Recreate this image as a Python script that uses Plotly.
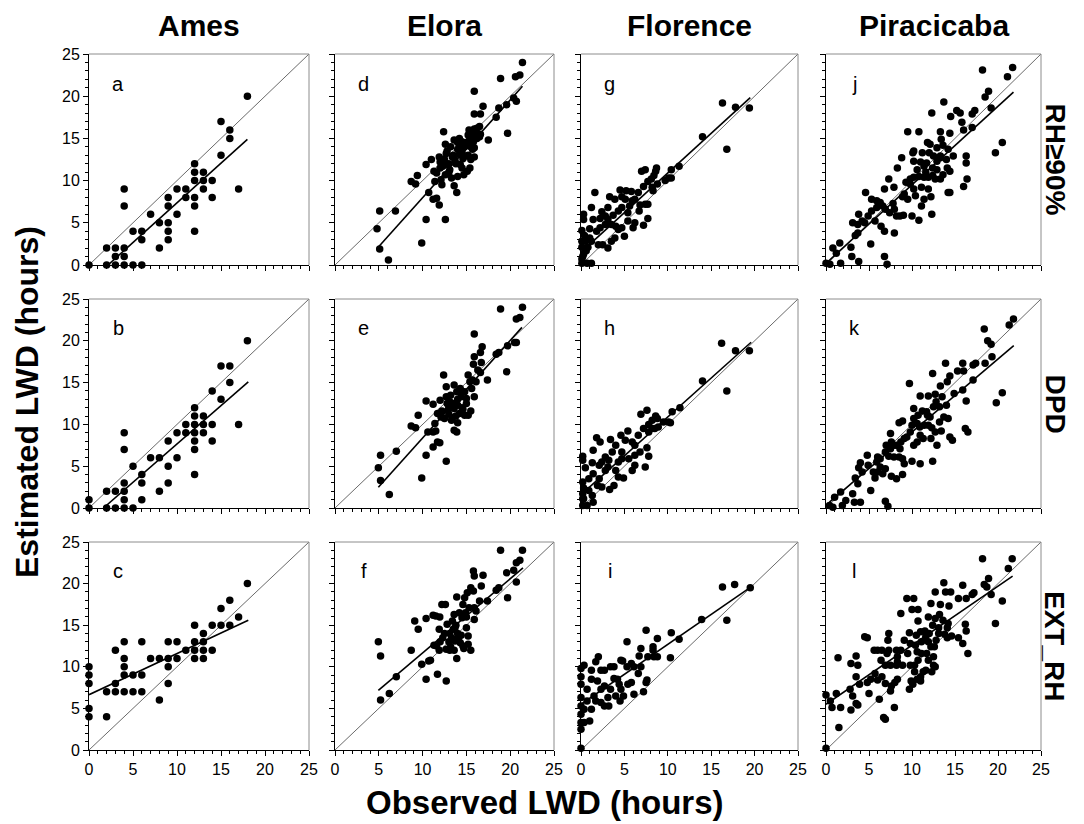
import plotly.graph_objects as go

# ---------------- data (observed, estimated) ----------------
sites = ["Ames", "Elora", "Florence", "Piracicaba"]
models = ["RH\u226590%", "DPD", "EXT_RH"]
letters = [["a", "d", "g", "j"], ["b", "e", "h", "k"], ["c", "f", "i", "l"]]
tick_vals = [0, 5, 10, 15, 20, 25]

pts_a = [(0,0),(2,2),(2,0),(3,2),(3,1),(3,0),(4,2),(4,1),(4,0),(4,9),(4,7),(5,4),(5,0),(6,4),(6,3),(6,0),
         (7,6),(8,5),(8,2),(9,8),(9,7),(9,5),(9,4),(9,3),(10,9),(10,6),(11,9),(11,8),(12,12),(12,11),(12,10),
         (12,8),(12,7),(12,4),(13,11),(13,10),(13,9),(14,10),(14,8),(15,17),(15,13),(16,16),(16,15),(17,9),(18,20)]
pts_b = [(0,1),(0,0),(2,2),(2,0),(3,2),(3,0),(4,9),(4,7),(4,3),(4,2),(4,1),(4,0),(5,5),(5,0),(6,4),(6,3),(6,1),
         (7,6),(8,6),(8,2),(9,8),(9,5),(9,3),(10,9),(10,6),(11,10),(11,9),(12,12),(12,11),(12,10),(12,9),(12,8),
         (12,7),(12,4),(13,11),(13,10),(13,9),(14,14),(14,10),(14,8),(15,17),(15,13),(16,17),(16,15),(17,10),(18,20)]
pts_c = [(0,10),(0,9),(0,8),(0,5),(0,4),(2,7),(2,4),(3,12),(3,8),(3,7),(4,13),(4,11),(4,10),(4,9),(4,7),(5,9),
         (5,7),(6,13),(6,9),(6,7),(7,11),(8,11),(8,6),(9,13),(9,11),(9,10),(9,8),(10,13),(10,11),(11,12),(12,15),
         (12,13),(12,12),(12,11),(13,14),(13,13),(13,12),(13,11),(14,15),(14,12),(15,17),(15,15),(16,18),(16,15),
         (17,16),(18,20)]
pts_d = [(6.1,0.6),(5.1,1.9),(4.8,4.3),(5.1,6.4),(6.9,6.4),(9.9,2.6),(10.4,5.4),(12.6,5.4),(8.7,9.9),(9.2,9.6),
         (9.4,10.6),(10.4,11.9),(10.7,8.6),(11.2,7.8),(11.6,7.9),(11.9,7.1),(11.3,11.1),(11.6,10.9),(11.4,9.9),
         (11.9,12.8),(12.0,12.2),(12.4,15.8),(12.6,14.3),(12.7,13.2),(12.3,11.7),(12.1,10.1),(12.6,10.7),(12.9,11.9),
         (13.1,11.3),(13.3,10.3),(13.6,9.4),(13.9,8.6),(13.7,12.4),(13.6,14.8),(14.0,13.7),(14.2,13.1),(14.4,14.3),
         (14.5,14.6),(14.3,11.9),(14.5,11.5),(14.7,10.7),(15.1,11.1),(15.4,11.5),(15.0,12.9),(15.5,12.5),(15.7,13.7),
         (15.2,15.4),(15.4,15.0),(15.6,15.7),(15.9,16.1),(16.0,15.8),(16.2,16.2),(16.5,16.4),(16.6,15.5),(16.0,15.1),
         (15.9,13.9),(15.9,12.8),(17.5,14.8),(15.9,20.6),(15.9,17.9),(16.6,17.9),(16.9,18.8),(18.4,17.5),(18.7,18.6),
         (18.9,22.1),(19.6,19.0),(19.7,15.6),(20.4,19.8),(20.7,19.4),(20.6,22.3),(21.1,22.5),(21.4,24.0),
         (12.0,11.5),(12.5,12.5),(13.0,12.0),(13.5,13.0),(13.8,12.0),(14.0,14.5),(14.5,13.5),(14.8,14.0),(15.0,14.5),
         (15.2,13.0),(13.2,14.0),(12.8,13.5),(14.2,15.0),(15.5,14.0),(16.2,15.0),(11.0,12.5),(12.2,9.5),(13.0,11.0),
         (14.0,10.5),(15.8,14.6),(16.5,15.2),(14.6,12.6),(13.4,12.8),(15.3,16.0)]
pts_e = [(6.2,1.6),(5.2,3.3),(4.95,4.8),(5.2,6.3),(7.0,6.8),(9.9,3.6),(10.4,6.3),(12.7,5.6),(8.7,9.8),(9.2,9.6),
         (9.5,11.1),(10.4,12.8),(11.2,7.3),(11.7,7.9),(11.96,7.8),(11.2,9.1),(11.5,9.2),(10.6,9.1),(11.4,10.1),
         (11.2,12.4),(12.4,15.9),(12.7,14.5),(12.7,13.3),(12.0,12.9),(11.7,11.3),(12.1,10.9),(12.5,10.7),(12.9,11.7),
         (13.1,12.7),(13.3,10.5),(13.6,14.7),(13.6,9.3),(13.9,9.1),(13.9,13.9),(14.3,14.3),(14.4,13.3),(14.0,12.3),
         (13.6,11.9),(14.2,11.3),(14.8,11.1),(15.2,11.1),(15.5,11.6),(14.8,13.9),(15.0,13.1),(15.2,15.9),(15.4,15.1),
         (15.7,15.3),(15.9,13.3),(15.6,14.3),(16.1,15.1),(15.8,17.2),(16.3,16.5),(16.6,16.2),(16.7,17.4),(15.9,20.8),
         (15.9,18.1),(16.6,18.6),(16.8,19.3),(17.4,15.3),(18.4,18.4),(18.7,18.6),(18.9,23.8),(19.6,16.3),(19.7,19.4),
         (20.5,19.8),(20.7,19.8),(20.7,22.6),(21.1,22.8),(21.4,24.0),
         (13.0,12.0),(13.5,12.5),(14.0,13.0),(14.5,12.0),(13.8,11.0),(12.8,12.5),(14.2,14.0),(13.2,13.5),(14.6,11.8),
         (13.4,10.8),(12.2,11.6),(15.0,12.5),(14.0,10.2),(13.0,11.2)]
pts_f = [(4.95,13.0),(5.2,11.3),(5.2,6.0),(6.2,6.8),(7.0,8.8),(8.7,12.0),(9.1,15.5),(9.5,14.5),(9.9,10.3),
         (10.4,15.8),(10.4,8.5),(10.7,10.7),(10.9,10.8),(11.7,9.1),(11.2,16.2),(11.5,16.1),(11.96,16.0),(12.2,17.5),
         (12.6,17.5),(12.7,8.3),(11.3,12.6),(11.6,12.5),(11.9,12.0),(11.9,14.5),(12.3,13.5),(12.8,15.1),(12.7,12.1),
         (13.1,12.0),(13.4,15.5),(13.6,16.3),(13.7,14.7),(13.9,18.4),(13.9,11.0),(13.6,12.0),(13.7,13.1),(13.3,13.5),
         (13.1,14.0),(14.1,13.5),(14.3,12.9),(14.6,12.5),(14.7,12.2),(14.5,15.9),(14.6,17.5),(14.8,18.3),(15.1,18.9),
         (15.0,14.7),(15.2,13.7),(15.2,12.7),(15.5,12.0),(14.9,16.5),(15.3,17.1),(15.5,19.5),(15.9,17.1),(15.9,15.7),
         (15.8,21.5),(15.9,20.9),(15.8,19.1),(16.1,16.7),(16.5,17.9),(16.7,19.7),(16.9,21.0),(17.4,17.9),(18.4,19.2),
         (18.7,19.5),(18.9,24.0),(19.6,21.3),(19.7,18.3),(20.4,21.6),(20.7,20.2),(20.7,22.5),(21.1,22.8),(21.4,24.0),
         (13.0,13.0),(13.5,14.5),(14.0,14.0),(12.5,14.0),(14.2,16.5),(13.8,15.0),(12.0,13.0),(14.4,13.8),(13.2,12.4),
         (15.0,16.0)]
pts_g = [(16.3,19.2),(17.8,18.7),(19.4,18.6),(16.8,13.7),(14.0,15.2),(11.3,11.7),(10.4,11.3),(10.1,10.3),(10.4,10.3),
         (8.7,11.5),(8.6,11.1),(7.4,11.3),(6.98,11.1),(8.4,10.6),(8.1,10.2),(8.8,9.6),(7.7,9.9),(7.2,9.3),(8.2,9.2),
         (6.6,8.6),(6.8,7.1),(7.4,7.2),(7.7,5.5),(7.2,4.7),(5.8,8.7),(5.2,8.8),(4.5,8.9),(4.7,8.1),(3.9,7.8),(3.3,8.1),
         (1.6,8.6),(1.2,6.8),(5.9,7.6),(5.6,7.0),(5.4,6.2),(4.7,6.8),(4.3,6.4),(3.7,5.9),(3.1,5.4),(2.8,4.8),(2.4,6.3),
         (2.2,5.5),(1.4,5.4),(1.0,4.3),(0.3,5.4),(0.1,4.1),(0.5,2.8),(0.1,2.8),(0.1,2.1),(0.3,1.3),(0.1,0.7),(0.1,0.2),
         (0.7,0.2),(1.2,0.2),(0.8,2.1),(1.2,2.8),(2.0,2.4),(2.5,2.4),(3.1,2.0),(3.5,2.8),(3.9,3.2),(4.7,4.4),(5.0,3.4),
         (6.0,4.4),(6.2,5.0),(5.4,5.2),(4.3,4.2),(2.8,5.8),(3.5,4.8),(4.0,4.6),(1.8,4.0),(2.2,4.4),(7.7,7.2),(8.3,8.8),
         (9.7,10.0),(6.7,6.4),(3.1,6.8),(6.2,7.8),(5.1,7.8),(0.4,3.5),(0.2,1.0),(0.6,1.7),(1.0,3.2),(0.3,6.0)]
pts_h = [(16.2,19.7),(17.8,18.8),(19.4,18.8),(16.8,14.0),(14.0,15.2),(11.4,12.0),(10.5,11.5),(10.1,10.3),(10.3,10.2),
         (7.6,11.7),(6.9,11.2),(8.6,11.0),(8.8,10.7),(8.2,10.5),(7.8,10.0),(8.9,9.7),(7.2,9.5),(8.2,9.5),(6.6,8.7),
         (7.6,7.2),(7.8,6.2),(7.4,4.9),(5.4,9.2),(4.6,8.7),(3.4,8.2),(1.8,8.4),(1.4,6.9),(0.2,6.2),(0.2,5.7),(0.5,4.8),
         (1.3,5.4),(1.4,4.1),(0.2,3.1),(0.3,2.4),(0.2,1.7),(0.2,1.1),(0.2,0.3),(0.7,0.3),(1.4,0.7),(1.3,1.5),(1.9,2.7),
         (2.4,2.5),(3.3,2.2),(3.8,2.7),(4.3,3.7),(4.9,3.6),(5.9,4.5),(6.2,5.1),(6.2,6.3),(5.5,5.9),(4.3,5.5),(4.7,6.7),
         (3.6,6.7),(2.8,6.1),(2.4,5.5),(2.1,5.1),(3.1,4.9),(4.0,4.5),(5.1,8.1),(5.9,7.9),(6.2,7.5),(6.8,6.7),(4.0,7.5),
         (3.2,5.7),(7.8,9.1),(8.5,9.5),(9.5,10.3),(2.1,3.5),(0.9,3.5),(0.3,1.1),(0.9,2.1),(2.8,4.5),(4.7,5.9),(2.2,7.9)]
pts_i = [(16.3,19.6),(17.7,19.9),(19.5,19.5),(16.8,15.6),(13.9,15.7),(11.3,13.3),(10.4,14.1),(10.3,11.1),(8.8,13.4),
         (7.5,14.4),(8.3,12.4),(7.7,11.2),(8.4,11.2),(8.8,11.2),(6.9,12.2),(6.7,11.3),(5.3,13.0),(4.6,10.8),(4.8,10.7),
         (5.8,10.4),(6.6,9.2),(7.6,8.4),(7.2,7.0),(7.5,8.1),(6.1,6.7),(5.8,8.1),(5.4,7.9),(4.9,6.5),(4.5,5.9),(4.4,7.9),
         (4.2,8.5),(3.8,8.6),(3.4,10.0),(2.7,9.6),(2.3,9.6),(2.0,11.2),(1.7,10.6),(1.2,8.5),(1.2,9.6),(0.35,10.2),
         (0,9.8),(0,8.8),(0,7.9),(0,6.3),(0,5.3),(0,4.3),(0,3.3),(0,2.5),(0.35,3.3),(1.0,3.5),(0.35,4.9),(0.7,5.9),
         (1.2,4.9),(1.7,5.9),(2.3,5.7),(2.7,5.3),(3.1,6.3),(3.4,7.3),(2.7,7.7),(1.9,8.3),(2.3,7.3),(0.7,7.3),(3.2,5.3),
         (4.0,6.5),(5.3,10.0),(6.1,10.0),(6.9,10.0),(8.3,12.0),(0,0.2),(3.8,10.0),(4.6,7.3),(1.5,6.5)]
pts_j = [(18.2,23.1),(21.7,23.4),(21.1,22.3),(18.5,19.9),(18.9,20.6),(19.2,18.6),(20.5,14.5),(19.7,13.3),(13.7,19.3),
         (12.3,18.0),(15.2,18.3),(15.6,18.0),(14.5,17.6),(15.8,16.9),(17.0,17.9),(17.3,18.3),(17.0,16.3),(16.0,16.0),
         (13.3,15.8),(14.4,15.6),(9.5,15.8),(10.8,15.8),(11.8,14.5),(12.1,14.3),(13.4,14.9),(13.6,14.2),(14.2,13.7),
         (10.1,13.3),(10.2,13.5),(8.8,12.7),(8.3,11.5),(10.2,12.3),(11.0,12.2),(11.4,11.7),(11.7,12.1),(12.5,12.9),
         (12.9,12.3),(12.9,11.3),(13.3,12.7),(14.1,11.5),(14.4,11.1),(16.3,12.9),(16.3,12.1),(16.4,10.2),(16.0,9.3),
         (14.2,8.6),(14.4,8.6),(10.2,10.4),(10.8,10.5),(9.8,10.2),(11.4,10.4),(11.9,10.4),(12.4,10.6),(12.7,10.2),
         (13.3,10.2),(11.1,9.2),(11.9,9.0),(12.2,8.1),(11.4,7.8),(11.1,7.0),(12.3,6.0),(9.8,9.6),(10.2,9.0),(10.4,8.2),
         (9.3,9.8),(9.1,8.4),(8.9,8.1),(9.5,7.8),(10.0,5.8),(10.8,5.3),(9.0,5.9),(8.6,5.8),(8.2,5.8),(7.95,6.6),
         (7.8,7.3),(7.3,10.2),(7.9,9.2),(6.8,9.0),(4.6,8.6),(5.9,7.6),(6.3,7.4),(6.6,7.0),(5.9,6.8),(6.9,6.6),(7.4,6.2),
         (5.3,6.4),(4.9,5.8),(5.7,5.2),(6.4,4.6),(6.8,4.0),(7.95,3.8),(3.8,6.0),(3.1,5.0),(3.7,4.8),(3.4,3.5),(3.7,3.8),
         (5.2,2.5),(2.9,2.1),(1.6,2.6),(0.8,2.0),(1.2,1.4),(3.0,1.0),(3.8,0.4),(6.8,1.0),(7.1,0.1),(0,0.2),(0.45,0.1),
         (1.7,0.2),(4.2,5.2),(4.5,5.0),(5.3,7.8),(13.3,12.9),(12.9,13.9),(12.0,13.3),(11.2,13.3),(10.6,11.3),(11.6,11.0),
         (12.4,11.5),(13.6,10.7),(14.0,12.5),(14.8,12.9)]
pts_k = [(18.4,21.4),(21.8,22.6),(21.3,21.9),(18.8,20.0),(19.2,19.6),(19.3,18.1),(18.5,17.3),(20.5,13.8),(19.8,12.6),
         (17.1,15.3),(17.4,17.3),(17.1,17.1),(16.0,16.4),(15.9,17.3),(15.3,16.4),(15.9,14.1),(16.3,12.8),(13.9,17.3),
         (14.4,15.8),(12.4,16.1),(9.7,14.9),(13.3,14.6),(14.1,15.1),(14.9,13.7),(12.7,13.6),(11.9,13.4),(10.95,13.4),
         (13.5,13.3),(14.0,12.3),(14.2,10.7),(13.7,10.9),(12.5,12.1),(11.2,11.6),(10.2,11.9),(10.7,11.1),(11.8,11.1),
         (12.1,10.9),(8.9,10.4),(8.5,10.2),(7.5,8.9),(16.2,9.5),(16.5,9.1),(14.4,8.5),(14.7,8.1),(13.4,9.2),(13.2,10.3),
         (10.0,9.9),(10.6,10.1),(10.9,9.7),(11.4,9.9),(11.9,9.9),(12.3,9.6),(12.7,9.1),(12.9,7.5),(12.2,8.3),(11.3,8.3),
         (10.6,7.9),(10.2,7.5),(9.8,9.1),(9.4,8.5),(9.1,8.3),(8.7,7.9),(8.6,7.1),(7.9,7.5),(7.5,7.1),(7.0,7.5),(6.9,6.7),
         (7.3,6.2),(7.9,6.1),(8.5,6.1),(8.9,5.9),(9.1,5.3),(10.0,5.6),(10.95,5.3),(12.4,5.6),(8.9,4.0),(8.2,3.5),(7.6,3.8),
         (6.9,4.7),(6.3,5.9),(6.0,6.1),(5.9,5.5),(6.3,4.9),(6.0,4.3),(6.6,4.1),(5.7,3.6),(4.8,6.3),(4.9,5.1),(4.0,5.4),
         (3.8,4.8),(4.2,4.3),(3.4,3.6),(3.7,2.9),(3.1,1.7),(4.0,0.7),(3.3,0.7),(5.2,2.1),(6.9,0.8),(7.2,0.2),(1.7,1.9),
         (1.0,1.3),(1.9,0.3),(0.4,0.3),(0.8,0.1),(2.3,0.9),(5.5,4.3),(8.2,7.5),(10.95,8.7),(11.7,11.5),(12.8,12.7),
         (13.2,12.1),(10.2,10.7),(7.6,7.9)]
pts_l = [(18.2,23.0),(21.65,23.0),(21.2,21.8),(18.4,19.9),(18.9,20.6),(19.2,18.7),(20.5,17.9),(19.7,15.2),(18.7,19.6),
         (17.0,18.7),(17.2,18.9),(15.9,19.8),(16.3,18.2),(15.4,18.2),(16.2,15.1),(16.3,14.3),(15.9,12.8),(16.5,11.6),
         (13.7,20.1),(12.7,19.0),(13.9,19.0),(14.5,19.0),(12.2,17.6),(13.3,17.5),(14.3,17.3),(9.4,18.2),(10.2,18.2),
         (10.0,16.9),(10.7,16.9),(8.7,16.4),(10.7,15.5),(11.9,16.0),(12.7,15.8),(13.2,16.3),(13.6,15.6),(14.2,15.2),
         (12.4,15.0),(11.5,14.3),(11.0,14.2),(9.7,14.1),(13.1,14.0),(13.8,13.9),(14.1,14.7),(12.8,13.2),(11.9,13.0),
         (11.1,13.0),(10.4,12.6),(9.1,13.2),(9.8,12.8),(8.7,12.0),(10.6,11.8),(11.1,11.6),(11.7,11.6),(12.2,12.4),
         (12.5,11.2),(11.9,10.8),(12.5,10.2),(12.7,10.0),(10.7,10.8),(10.3,10.2),(9.8,10.2),(8.9,10.2),(8.2,10.2),
         (7.5,10.2),(6.9,10.2),(6.4,10.8),(7.1,11.6),(6.5,12.0),(6.0,12.0),(5.6,12.0),(7.3,12.0),(8.2,12.0),(7.2,13.2),
         (7.3,14.0),(4.5,13.6),(4.8,13.5),(3.5,11.3),(2.9,10.4),(1.4,11.1),(3.7,10.2),(3.5,8.8),(3.9,7.9),(3.1,6.5),
         (3.5,5.6),(3.7,5.4),(2.9,4.8),(2.8,7.3),(1.7,5.1),(1.2,6.8),(0,6.6),(0.5,5.9),(0.7,5.1),(1.5,2.7),(5.0,6.8),
         (6.2,6.1),(6.7,3.9),(6.9,3.7),(7.95,5.1),(7.5,7.1),(8.3,8.5),(8.0,8.1),(7.6,7.7),(6.9,8.0),(6.0,8.4),(6.5,8.8),
         (5.7,9.2),(5.2,8.5),(4.8,8.1),(9.7,7.3),(9.9,8.3),(10.6,8.5),(11.0,8.8),(10.3,9.4),(11.3,9.4),(11.6,9.6),
         (12.3,9.4),(11.0,8.3),(10.1,7.9),(0,0.2),(14.1,13.5),(14.6,13.7),(12.0,14.0),(11.6,13.6),(12.6,12.4),(10.5,13.8),
         (9.5,11.6),(8.3,11.2),(8.3,10.6),(13.1,14.7),(15.4,13.5)]

panels = [[pts_a, pts_d, pts_g, pts_j],
          [pts_b, pts_e, pts_h, pts_k],
          [pts_c, pts_f, pts_i, pts_l]]

# regression lines: intercept, slope, x-start, x-end
reg_intercept = [[-2.03, -3.59, 1.5, 0.2], [-1.5, -3.3, 1.6, 0.35], [6.65, 2.74, 5.5, 5.5]]
reg_slope = [[0.94, 1.157, 0.94, 0.93], [0.916, 1.167, 0.93, 0.874], [0.494, 0.892, 0.72, 0.71]]
reg_x0 = [[2.16, 4.98, 0.15, 0.2], [1.64, 4.95, 0.3, 0.4], [0.0, 4.95, 0.0, 0.0]]
reg_x1 = [[18.0, 21.4, 19.5, 21.8], [18.1, 21.34, 19.6, 21.83], [18.1, 21.46, 19.47, 21.7]]

# ---------------- layout geometry ----------------
W, H = 1084, 824
ML, MR, MT, MB = 81, 51, 46, 82
PW = W - ML - MR
PH = H - MT - MB
col_px = [(0, 220), (246, 465), (492, 709), (737, 952)]
row_px = [(0, 211), (245, 454), (488, 696)]

FONT = "Liberation Sans, Arial, sans-serif"
fig = go.Figure()

for r in range(3):
    for c in range(4):
        k = r * 4 + c + 1
        xa = "x" if k == 1 else f"x{k}"
        ya = "y" if k == 1 else f"y{k}"
        xd = [col_px[c][0] / PW, col_px[c][1] / PW]
        yd = [1 - row_px[r][1] / PH, 1 - row_px[r][0] / PH]
        axis_common = dict(
            range=[0, 25], tickvals=tick_vals, ticks="outside", ticklen=5, tickwidth=1,
            tickcolor="black", showline=True, linecolor="black", linewidth=1,
            showgrid=False, zeroline=False, fixedrange=True,
            tickfont=dict(family=FONT, size=16, color="black"),
            minor=dict(dtick=1, ticks="outside", ticklen=3, tickcolor="black", tickwidth=1, showgrid=False),
        )
        fig.layout[("xaxis" if k == 1 else f"xaxis{k}")] = dict(
            axis_common, domain=xd, anchor=ya, showticklabels=(r == 2))
        fig.layout[("yaxis" if k == 1 else f"yaxis{k}")] = dict(
            axis_common, domain=yd, anchor=xa, showticklabels=(c == 0))

        # 1:1 line
        fig.add_trace(go.Scatter(x=[0, 25], y=[0, 25], mode="lines",
                                 line=dict(color="#444444", width=0.8),
                                 xaxis=xa, yaxis=ya, showlegend=False, hoverinfo="skip"))
        pts = panels[r][c]
        xs = [p[0] for p in pts]
        ys = [p[1] for p in pts]
        fig.add_trace(go.Scatter(x=xs, y=ys, mode="markers",
                                 marker=dict(color="black", size=7.5),
                                 xaxis=xa, yaxis=ya, showlegend=False, cliponaxis=False))
        b0, b1 = reg_intercept[r][c], reg_slope[r][c]
        x0, x1 = reg_x0[r][c], reg_x1[r][c]
        fig.add_trace(go.Scatter(x=[x0, x1], y=[b0 + b1 * x0, b0 + b1 * x1], mode="lines",
                                 line=dict(color="black", width=1.6),
                                 xaxis=xa, yaxis=ya, showlegend=False, hoverinfo="skip"))
        # gray top/right frame
        fig.add_shape(type="line", xref=f"{xa} domain", yref=f"{ya} domain",
                      x0=0, x1=1, y0=1, y1=1, line=dict(color="#8c8c8c", width=1))
        fig.add_shape(type="line", xref=f"{xa} domain", yref=f"{ya} domain",
                      x0=1, x1=1, y0=0, y1=1, line=dict(color="#8c8c8c", width=1))
        # panel letter
        fig.add_annotation(x=3.3, y=21.5, xref=xa, yref=ya, text=letters[r][c], showarrow=False,
                           xanchor="center", yanchor="middle",
                           font=dict(family=FONT, size=20, color="black"))

# column titles
for c in range(4):
    xc = (col_px[c][0] + col_px[c][1]) / 2 / PW
    fig.add_annotation(x=xc, y=1, xref="paper", yref="paper", yshift=10, yanchor="bottom",
                       xanchor="center", text=f"<b>{sites[c]}</b>", showarrow=False,
                       font=dict(family=FONT, size=30, color="black"))
# row labels
for r in range(3):
    yc = 1 - (row_px[r][0] + row_px[r][1]) / 2 / PH
    fig.add_annotation(x=1, y=yc, xref="paper", yref="paper", xshift=14, textangle=90,
                       xanchor="center", yanchor="middle",
                       text=f"<b>{models[r]}</b>", showarrow=False,
                       font=dict(family=FONT, size=28, color="black"))
# axis titles
fig.add_annotation(x=0, y=0.5, xref="paper", yref="paper", xshift=-62, textangle=-90,
                   xanchor="center", yanchor="middle",
                   text="<b>Estimated LWD (hours)</b>", showarrow=False,
                   font=dict(family=FONT, size=32, color="black"))
fig.add_annotation(x=0.479, y=0, xref="paper", yref="paper", yshift=-52,
                   xanchor="center", yanchor="middle",
                   text="<b>Observed LWD (hours)</b>", showarrow=False,
                   font=dict(family=FONT, size=33, color="black"))

fig.update_layout(width=W, height=H, margin=dict(l=ML, r=MR, t=MT, b=MB),
                  paper_bgcolor="white", plot_bgcolor="white")
fig.write_html("out.html")
